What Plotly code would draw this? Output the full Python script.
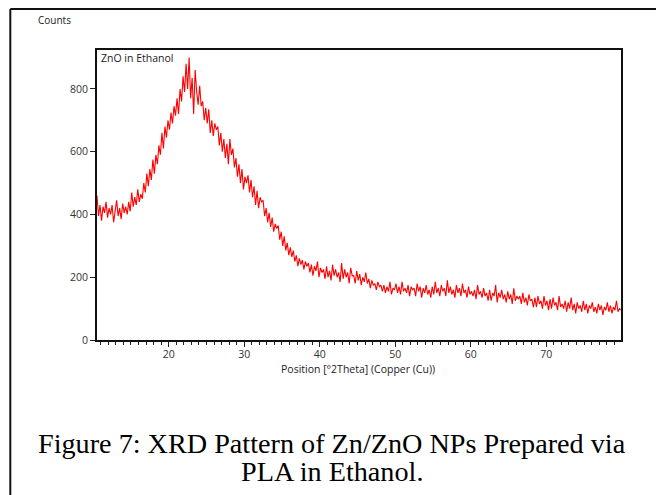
import numpy as np
import plotly.graph_objects as go

# ---- data ----
scan_start = 10.5          # deg 2theta
scan_step = 0.2            # deg
counts = [
    460, 395, 430, 380, 425, 405, 440, 390, 420, 400,
    430, 375, 410, 445, 395, 420, 385, 435, 405, 425,
    400, 440, 410, 470, 425, 455, 430, 480, 440, 465,
    450, 500, 470, 530, 490, 545, 510, 575, 530, 590,
    560, 620, 590, 660, 610, 680, 645, 700, 670, 725,
    690, 745, 715, 770, 720, 800, 760, 840, 790, 880,
    800, 900, 770, 835, 720, 860, 790, 750, 810, 745,
    760, 700, 740, 690, 735, 660, 700, 650, 690, 670,
    680, 620, 660, 600, 640, 580, 625, 560, 640, 590,
    610, 550, 580, 520, 560, 500, 545, 480, 520, 500,
    525, 470, 510, 455, 490, 430, 475, 420, 455, 440,
    445, 395, 420, 375, 405, 360, 390, 345, 370, 355,
    365, 320, 345, 300, 330, 285, 310, 270, 295, 265,
    285, 250, 270, 235, 260, 240, 255, 225, 250, 235,
    245, 215, 240, 205, 235, 220, 250, 200, 230, 215,
    225, 195, 235, 200, 220, 190, 240, 205, 225, 200,
    215, 185, 245, 195, 225, 200, 215, 180, 230, 205,
    205, 180, 220, 190, 210, 175, 200, 185, 215, 180,
    195, 165, 190, 175, 180, 160, 185, 170, 175, 155,
    175, 150, 170, 155, 185, 145, 165, 160, 180, 150,
    170, 145, 185, 155, 165, 150, 175, 140, 170, 160,
    165, 140, 180, 155, 170, 135, 165, 150, 175, 145,
    160, 135, 170, 145, 185, 150, 165, 140, 175, 155,
    165, 140, 190, 150, 170, 145, 160, 135, 175, 150,
    165, 140, 180, 150, 160, 135, 170, 145, 155, 140,
    160, 130, 175, 145, 155, 135, 165, 140, 150, 125,
    160, 125, 150, 140, 175, 120, 150, 135, 160, 130,
    145, 120, 155, 130, 145, 115, 165, 125, 140, 130,
    140, 115, 150, 120, 135, 110, 145, 125, 130, 105,
    135, 105, 140, 115, 125, 100, 140, 110, 125, 95,
    130, 100, 135, 110, 120, 95, 140, 105, 115, 100,
    125, 90, 120, 100, 135, 95, 115, 85, 120, 100,
    110, 90, 125, 95, 115, 85, 110, 100, 120, 90,
    105, 85, 115, 95, 110, 80, 105, 95, 120, 90,
    110, 85, 105, 95, 125, 90, 100, 95,
]
x_tick_vals = [20, 30, 40, 50, 60, 70]
y_tick_vals = [0, 200, 400, 600, 800]
sample_label = "ZnO in Ethanol"
x_title = "Position [°2Theta] (Copper (Cu))"
y_title = "Counts"
caption_lines = ["Figure 7: XRD Pattern of Zn/ZnO NPs Prepared via", "PLA in Ethanol."]

positions = scan_start + scan_step * np.arange(len(counts))

# ---- figure ----
# the page body adds an 8 px margin, so the figure is drawn 8 px smaller and
# all target pixel positions are shifted by that offset
OFF = 8
W, H = 664 - OFF, 495 - OFF
L, R, T, B = 96.7 - OFF, 620.7 - OFF, 50.0 - OFF, 340.0 - OFF

def px_to_paper_x(px):
    return (px - OFF - L) / (R - L)

def px_to_paper_y(py):
    return (B - (py - OFF)) / (B - T)

fig = go.Figure()
fig.add_trace(go.Scatter(x=positions, y=counts, mode="lines",
                         line=dict(color="#ff0000", width=1.1), showlegend=False,
                         hoverinfo="skip"))

sans = "Open Sans, DejaVu Sans, sans-serif"
tick_font = dict(family=sans, size=10.5, color="#333333")

fig.update_layout(
    width=W, height=H,
    margin=dict(l=L, r=W - R, t=T, b=H - B, pad=0),
    paper_bgcolor="white", plot_bgcolor="white",
    xaxis=dict(range=[10.5, 79.9], tickvals=x_tick_vals, ticks="outside", ticklen=5,
               tickwidth=1, tickcolor="#222", showline=True, linecolor="#111", linewidth=2,
               mirror=True, showgrid=False, zeroline=False, tickfont=tick_font,
               ticklabelstandoff=-2,
               minor=dict(dtick=1, tick0=0, ticks="outside", ticklen=3, tickcolor="#222", tickwidth=1)),
    yaxis=dict(range=[0, 924], tickvals=y_tick_vals, ticks="outside", ticklen=5,
               tickwidth=1, tickcolor="#222", showline=True, linecolor="#111", linewidth=2,
               mirror=True, showgrid=False, zeroline=False, tickfont=tick_font),
)

# axis titles / labels
fig.add_annotation(text=y_title, xref="paper", yref="paper",
                   x=px_to_paper_x(36), y=px_to_paper_y(20), xanchor="left", yanchor="middle",
                   showarrow=False, font=dict(family=sans, size=10, color="#222"))
fig.add_annotation(text=sample_label, xref="paper", yref="paper",
                   x=px_to_paper_x(99), y=px_to_paper_y(58), xanchor="left", yanchor="middle",
                   showarrow=False, font=dict(family=sans, size=10.5, color="#222"))
fig.add_annotation(text=x_title, xref="paper", yref="paper",
                   x=px_to_paper_x(358), y=px_to_paper_y(369), xanchor="center", yanchor="middle",
                   showarrow=False, font=dict(family=sans, size=10.5, color="#222"))

# caption
for i, line in enumerate(caption_lines):
    fig.add_annotation(text=line, xref="paper", yref="paper",
                       x=px_to_paper_x(332), y=px_to_paper_y(443 + 28 * i),
                       xanchor="center", yanchor="middle", showarrow=False,
                       font=dict(family="Liberation Serif, Times New Roman, serif", size=28.2, color="#000"))

# outer frame (left and top edges)
fig.add_shape(type="line", xref="paper", yref="paper",
              x0=px_to_paper_x(10), x1=px_to_paper_x(10), y0=px_to_paper_y(9), y1=px_to_paper_y(500),
              line=dict(color="#111", width=2))
fig.add_shape(type="line", xref="paper", yref="paper",
              x0=px_to_paper_x(10), x1=px_to_paper_x(670), y0=px_to_paper_y(9), y1=px_to_paper_y(9),
              line=dict(color="#111", width=2))

fig.write_html("out.html")
